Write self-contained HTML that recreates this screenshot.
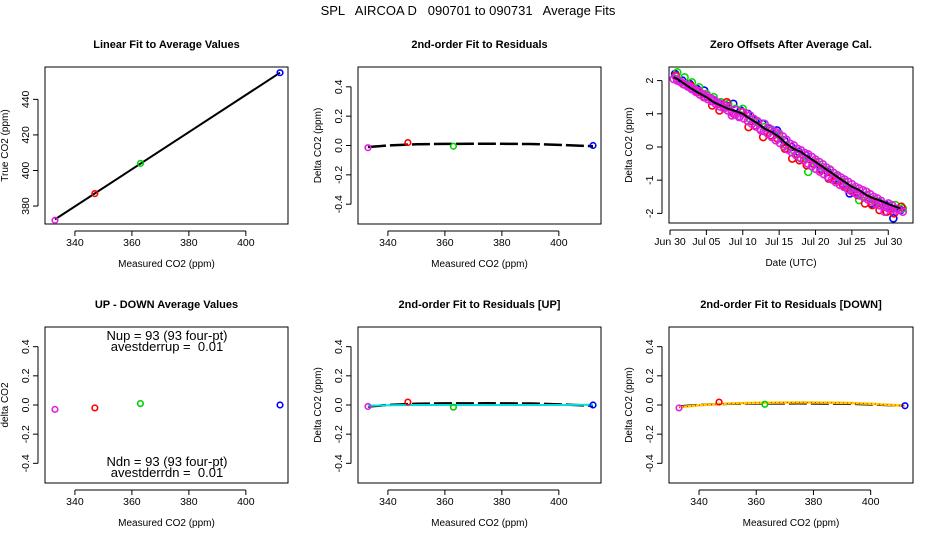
<!DOCTYPE html>
<html><head><meta charset="utf-8">
<style>
html,body{margin:0;padding:0;background:#fff;}
svg{display:block;font-family:"Liberation Sans",sans-serif;}
.pre{white-space:pre;}
</style></head>
<body>
<svg id="c" width="936" height="540" xmlns="http://www.w3.org/2000/svg">
<rect width="936" height="540" fill="#fff"/>
<text class="pre" x="468" y="15" text-anchor="middle" font-size="13" xml:space="preserve">SPL   AIRCOA D   090701 to 090731   Average Fits</text>
</svg>
<script>
// ---- data ----
const calX = [333, 347, 363, 412];
const calColors = ["#e020e0", "red", "#00d000", "blue"];
const trueCO2 = [372, 387, 404, 455];
const fitTrueX = [333, 412];
const fitTrueY = [372.5, 455];
const resid = [-0.015, 0.02, -0.005, 0.0];
const residFitX = [333, 340, 350, 360, 375, 390, 400, 412];
const residFitY = [-0.01, 0.0, 0.008, 0.011, 0.012, 0.01, 0.004, -0.005];
const upDown = [-0.03, -0.02, 0.01, 0.0];
const residUp = [-0.01, 0.02, -0.015, 0.0];
const cyanY = [-0.005, -0.002, 0.0, 0.0, 0.0, 0.0, 0.0, 0.002];
const residDn = [-0.02, 0.02, 0.005, -0.005];
const dnFitY = [-0.015, -0.002, 0.01, 0.015, 0.018, 0.015, 0.008, -0.005];
const dateTicks = ["Jun 30","Jul 05","Jul 10","Jul 15","Jul 20","Jul 25","Jul 30"];
const dateTickDays = [0,5,10,15,20,25,30];
const zeroLine = [2.1,2.05,1.9,1.75,1.62,1.5,1.35,1.25,1.15,1.08,1.0,0.85,0.72,0.55,0.45,0.3,0.1,-0.05,-0.15,-0.3,-0.45,-0.6,-0.75,-0.9,-1.05,-1.2,-1.3,-1.45,-1.55,-1.62,-1.72,-1.8,-1.85];
const zeroLineDays = [0.5,1,2,3,4,5,6,7,8,9,10,11,12,13,14,15,16,17,18,19,20,21,22,23,24,25,26,27,28,29,30,31,31.7];
const zBlue = [2.2,2.0,1.9,1.75,1.7,1.45,1.3,1.25,1.3,1.1,1.0,0.8,0.7,0.55,0.5,0.2,0.0,-0.15,-0.25,-0.5,-0.65,-0.75,-0.95,-1.1,-1.4,-1.35,-1.5,-1.7,-1.65,-1.75,-2.15,-1.9];
const zGreen = [2.25,2.1,1.95,1.8,1.6,1.5,1.35,1.3,1.15,1.15,0.85,0.75,0.6,0.5,0.35,0.05,-0.1,-0.35,-0.75,-0.45,-0.6,-0.7,-0.9,-1.05,-1.25,-1.6,-1.45,-1.6,-1.7,-1.8,-1.75,-1.85];
const zRed = [2.15,1.9,1.85,1.65,1.5,1.25,1.1,1.35,1.0,1.05,0.6,0.65,0.3,0.35,0.25,-0.05,-0.35,-0.4,-0.55,-0.5,-0.7,-0.95,-1.0,-1.15,-1.3,-1.45,-1.7,-1.75,-1.9,-1.95,-2.0,-1.8];
const zMagenta = [2.05,2.0,1.95,1.88,1.85,1.78,1.72,1.68,1.6,1.55,1.48,1.42,1.35,1.3,1.25,1.2,0.95,1.12,0.9,1.05,1.0,0.95,0.85,0.78,0.5,0.7,0.58,0.52,0.45,0.4,0.32,0.22,0.1,0.05,-0.05,-0.1,-0.18,-0.22,-0.3,-0.38,-0.45,-0.52,-0.62,-0.68,-0.78,-0.85,-0.92,-0.98,-1.05,-1.12,-1.2,-1.25,-1.3,-1.35,-1.42,-1.5,-1.55,-1.62,-1.95,-1.7,-1.75,-1.85,-1.9,-1.95];
const zMagenta2 = [2.12,1.98,1.9,1.82,1.74,1.66,1.58,1.5,1.44,1.38,1.3,1.22,1.16,1.1,1.04,0.98,0.92,0.86,0.78,0.7,0.62,0.55,0.48,0.4,0.3,0.2,0.12,0.02,-0.08,-0.16,-0.24,-0.32,-0.4,-0.5,-0.58,-0.66,-0.74,-0.82,-0.9,-0.98,-1.06,-1.14,-1.2,-1.28,-1.34,-1.4,-1.46,-1.52,-1.58,-1.64,-1.7,-1.76,-1.8,-1.84,-1.88,-1.92];
const co2Ticks = [340,360,380,400];
const trueTicks = [380,400,420,440];
const residTicks = [-0.4,-0.2,0.0,0.2,0.4];
const residTickLabels = ["-0.4","-0.2","0.0","0.2","0.4"];
const zeroTicks = [-2,-1,0,1,2];

const NS = "http://www.w3.org/2000/svg";
const svg = document.getElementById("c");
function el(tag, attrs, parent, text){
  const e = document.createElementNS(NS, tag);
  for (const k in attrs) e.setAttribute(k, attrs[k]);
  if (text !== undefined) e.textContent = text;
  (parent || svg).appendChild(e);
  return e;
}

function panel(o){
  const g = el("g", {});
  
  
  const sx = v => o.x0 + (v - o.xmin) / (o.xmax - o.xmin) * (o.x1 - o.x0);
  const sy = v => o.y1 - (v - o.ymin) / (o.ymax - o.ymin) * (o.y1 - o.y0);
  const t = el("text", {x:(o.x0+o.x1)/2, y:o.y0-19, "text-anchor":"middle", "font-size":"11", "font-weight":"bold"}, g, o.title);
  
  
  const b = el("rect", {x:o.x0, y:o.y0, width:o.x1-o.x0, height:o.y1-o.y0, fill:"none", stroke:"#000", "stroke-width":"1"}, g);
  
  
  const xa = el("g", {}, g);
  
  
  const xt0 = sx(o.xt[0]), xt1 = sx(o.xt[o.xt.length-1]);
  el("line", {x1:xt0, x2:xt1, y1:o.y1+7, y2:o.y1+7, stroke:"#000"}, xa);
  o.xt.forEach((v,i) => {
    el("line", {x1:sx(v), x2:sx(v), y1:o.y1+7, y2:o.y1+12, stroke:"#000"}, xa);
    const tl = el("text", {x:sx(v), y:o.y1+22, "text-anchor":"middle", "font-size":"10.5"}, xa, o.xl ? o.xl[i] : String(v));
    
    
  });
  const xtitle = el("text", {x:(o.x0+o.x1)/2, y:o.y1+43, "text-anchor":"middle", "font-size":"10"}, g, o.xtitle);
  
  
  const ya = el("g", {}, g);
  
  
  el("line", {x1:o.x0-7, x2:o.x0-7, y1:sy(o.yt[0]), y2:sy(o.yt[o.yt.length-1]), stroke:"#000"}, ya);
  o.yt.forEach((v,i) => {
    el("line", {x1:o.x0-12, x2:o.x0-7, y1:sy(v), y2:sy(v), stroke:"#000"}, ya);
    const lx = o.x0-16, ly = sy(v);
    const tl = el("text", {x:lx, y:ly, "text-anchor":"middle", "font-size":"10.5", transform:`rotate(-90 ${lx} ${ly})`}, ya, o.yl ? o.yl[i] : String(v));
    
    
  });
  const tx = o.x0-37, ty = (o.y0+o.y1)/2;
  const ytitle = el("text", {x:tx, y:ty, "text-anchor":"middle", "font-size":"10", transform:`rotate(-90 ${tx} ${ty})`}, g, o.ytitle);
  
  
  return {g, sx, sy};
}
function line(p, xs, ys, attrs, name){
  const pts = xs.map((x,i) => p.sx(x).toFixed(1)+","+p.sy(ys[i]).toFixed(1)).join(" ");
  const l = el("polyline", Object.assign({points:pts, fill:"none"}, attrs), p.g);
  
  
}
function pts(p, xs, ys, colors, name, r){
  ys.forEach((y,i) => {
    const c = el("circle", {cx:p.sx(xs[i]), cy:p.sy(y), r:r||2.8, fill:"none", stroke:Array.isArray(colors)?colors[i]:colors, "stroke-width":"1.6"}, p.g);
    
    
  });
}
const XMIN = 329.5, XMAX = 414.8, RYMIN = -0.535, RYMAX = 0.535;

let p = panel({name:"linear-fit-panel", title:"Linear Fit to Average Values", x0:45,y0:67,x1:288,y1:224, xmin:XMIN,xmax:XMAX, ymin:369.9,ymax:458.2, xt:co2Ticks, yt:trueTicks, xtitle:"Measured CO2 (ppm)", ytitle:"True CO2 (ppm)"});
line(p, fitTrueX, fitTrueY, {stroke:"#000","stroke-width":"2"}, "linear-fit-line");
pts(p, calX, trueCO2, calColors, "calibration-point");

p = panel({name:"residual-fit-panel", title:"2nd-order Fit to Residuals", x0:358,y0:67,x1:601,y1:224, xmin:XMIN,xmax:XMAX, ymin:RYMIN,ymax:RYMAX, xt:co2Ticks, yt:residTicks, yl:residTickLabels, xtitle:"Measured CO2 (ppm)", ytitle:"Delta CO2 (ppm)"});
line(p, residFitX, residFitY, {stroke:"#000","stroke-width":"2.5","stroke-dasharray":"18,4"}, "residual-fit-line");
pts(p, calX, resid, calColors, "residual-point");

p = panel({name:"zero-offsets-panel", title:"Zero Offsets After Average Cal.", x0:669,y0:67,x1:913,y1:223, xmin:-0.14,xmax:33.4, ymin:-2.29,ymax:2.41, xt:dateTickDays, xl:dateTicks, yt:zeroTicks, xtitle:"Date (UTC)", ytitle:"Delta CO2 (ppm)"});
const dailyDays = zBlue.map((v,i) => i + 0.7);
pts(p, dailyDays, zBlue, "blue", "zero-offset-blue", 3.5);
pts(p, dailyDays.map(d => d + 0.3), zGreen, "#00e000", "zero-offset-green", 3.5);
pts(p, dailyDays.map(d => d + 0.1), zRed, "red", "zero-offset-red", 3.5);
pts(p, zMagenta.map((v,i) => 0.5 + i*0.5), zMagenta, "#e020e0", "zero-offset-magenta", 3.5);
pts(p, zMagenta2.map((v,i) => 0.8 + i*0.55), zMagenta2, "#e020e0", "zero-offset-magenta", 3.5);
line(p, zeroLineDays, zeroLine, {stroke:"#000","stroke-width":"2"}, "zero-offset-mean-line");

p = panel({name:"up-down-panel", title:"UP - DOWN Average Values", x0:45,y0:327,x1:288,y1:483, xmin:XMIN,xmax:XMAX, ymin:RYMIN,ymax:RYMAX, xt:co2Ticks, yt:residTicks, yl:residTickLabels, xtitle:"Measured CO2 (ppm)", ytitle:"delta CO2"});
pts(p, calX, upDown, calColors, "up-down-point");
[["Nup = 93 (93 four-pt)",340],["avestderrup =  0.01",351],["Ndn = 93 (93 four-pt)",466],["avestderrdn =  0.01",477]].forEach(a => {
  const t = el("text", {x:167, y:a[1], "text-anchor":"middle", "font-size":"13", "xml:space":"preserve", "class":"pre"}, p.g, a[0]);
  
  
});

p = panel({name:"residual-up-panel", title:"2nd-order Fit to Residuals [UP]", x0:358,y0:327,x1:601,y1:483, xmin:XMIN,xmax:XMAX, ymin:RYMIN,ymax:RYMAX, xt:co2Ticks, yt:residTicks, yl:residTickLabels, xtitle:"Measured CO2 (ppm)", ytitle:"Delta CO2 (ppm)"});
line(p, residFitX, residFitY, {stroke:"#000","stroke-width":"2.5","stroke-dasharray":"18,4"}, "residual-fit-line");
line(p, residFitX, cyanY, {stroke:"#00e0e0","stroke-width":"2"}, "up-fit-line");
pts(p, calX, residUp, calColors, "residual-up-point");

p = panel({name:"residual-down-panel", title:"2nd-order Fit to Residuals [DOWN]", x0:669,y0:327,x1:913,y1:483, xmin:XMIN,xmax:XMAX, ymin:RYMIN,ymax:RYMAX, xt:co2Ticks, yt:residTicks, yl:residTickLabels, xtitle:"Measured CO2 (ppm)", ytitle:"Delta CO2 (ppm)"});
line(p, residFitX, residFitY, {stroke:"#000","stroke-width":"2.5","stroke-dasharray":"18,4"}, "residual-fit-line");
line(p, residFitX, dnFitY, {stroke:"#ffd000","stroke-width":"2.5"}, "down-fit-line");
line(p, residFitX, dnFitY, {stroke:"red","stroke-width":"1","stroke-dasharray":"1,3"}, "down-fit-line-dots");
pts(p, calX, residDn, calColors, "residual-down-point");
</script>
</body></html>
